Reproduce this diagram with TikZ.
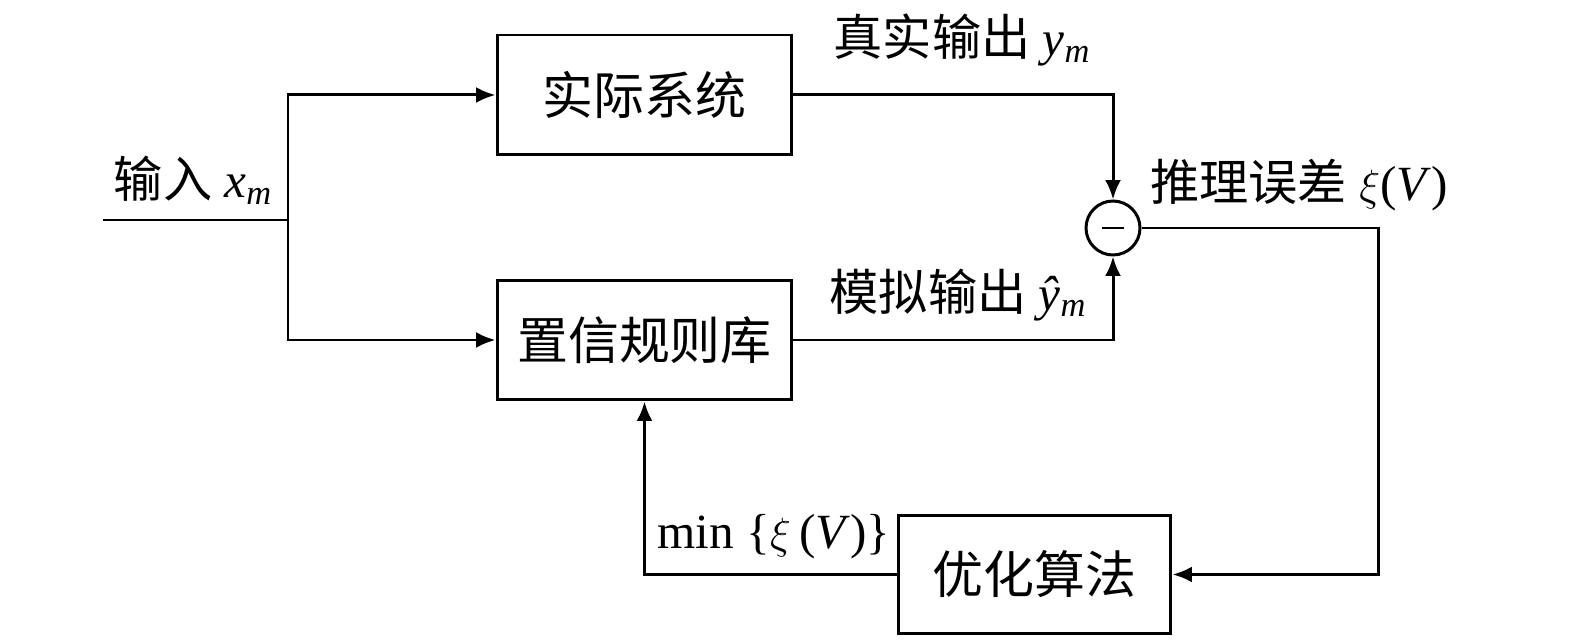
\documentclass[tikz,border=0pt]{standalone}
\usepackage{fontspec}
\setmainfont{Liberation Serif}
\newfontfamily\cjk{Noto Sans CJK SC}
\usetikzlibrary{arrows.meta}

\newcommand{\vsub}[2]{\textit{#1}\textsubscript{\textit{#2}}}

\begin{document}
\begin{tikzpicture}[x=0.02cm, y=-0.02cm,
  line width=1.7pt,
  block/.style={draw, minimum width=5.9cm, minimum height=2.4cm, font=\cjk\fontsize{29}{34}\selectfont},
  lbl/.style={font=\fontsize{28}{33}\selectfont, inner sep=0pt},
  arr/.style={-{Latex[length=11pt, width=9pt]}}]

% page frame
\useasboundingbox (0,0) rectangle (1575,644);

% blocks
\node[block] (plant) at (644.5,95) {实际系统};
\node[block] (brb) at (644.5,340) {置信规则库};
\node[block, minimum width=5.46cm, minimum height=2.38cm] (opt) at (1034.5,574.5) {优化算法};
\node[draw, circle, minimum size=1.08cm, inner sep=0pt] (sum) at (1113,228) {};
\draw[line width=1.4pt] (sum.center)++(-11,0) -- ++(22,0);

% free ends
\coordinate (in) at (103,220);
\coordinate (split) at (288,220);

% input
\draw (in) -- (split);
\draw[arr] (split) |- (plant.west);
\draw[arr] (split) |- (brb.west);

% outputs into the comparator
\draw[arr] (plant.east) -| (sum.north);
\draw[arr] (brb.east) -| (sum.south);

% feedback loop
\draw[arr] (sum.east) -- (1378,228) |- (opt.east);
\draw[arr] (opt.west) -| (brb.south);

% labels
\node[lbl] (inlbl) at (193,180) {{\cjk 输入} \vsub{x}{m}};
\node[lbl] (ylbl) at (962,40) {{\cjk 真实输出} \vsub{y}{m}};
\node[lbl] (elbl) at (1299,185) {{\cjk 推理误差} $\xi$(\textit{V})};
\node[lbl] (yhlbl) at (958,295) {{\cjk 模拟输出} \vsub{ŷ}{m}};
\node[lbl] (minlbl) at (774,537) {min \{$\xi$\,(\textit{V})\}};

\end{tikzpicture}
\end{document}
